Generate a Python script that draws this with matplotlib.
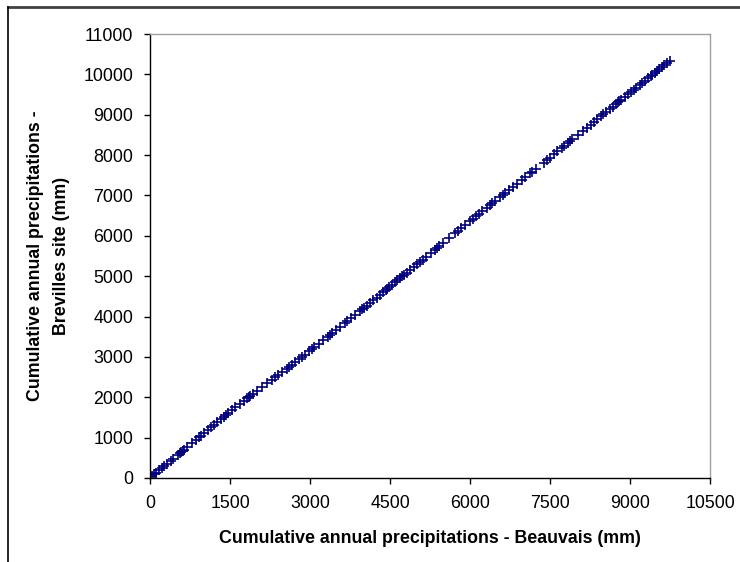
import matplotlib
matplotlib.use("Agg")
import matplotlib.pyplot as plt
from matplotlib.lines import Line2D

plt.rcParams['font.family'] = ['Liberation Sans', 'DejaVu Sans']

# cumulative totals (mm), Beauvais vs Brevilles site
beauvais = [
    35, 80, 120, 170, 230, 260, 310, 390, 440, 520, 560, 590, 610, 640, 700,
    780, 860, 920, 950, 1010, 1080, 1150, 1200, 1260, 1330, 1380, 1420, 1470,
    1540, 1600, 1680, 1760, 1820, 1850, 1880, 1930, 2010, 2100, 2200, 2280,
    2350, 2400, 2470, 2560, 2610, 2660, 2720, 2800, 2850, 2900, 2990, 3040,
    3080, 3160, 3250, 3330, 3380, 3420, 3490, 3560, 3650, 3700, 3760, 3840,
    3930, 3980, 4010, 4060, 4130, 4190, 4250, 4310, 4370, 4420, 4450, 4490,
    4540, 4600, 4640, 4690, 4730, 4760, 4810, 4870, 4950, 5010, 5060, 5110,
    5180, 5260, 5340, 5380, 5420, 5500, 5610, 5720, 5780, 5830, 5900, 6000,
    6050, 6110, 6160, 6230, 6310, 6370, 6420, 6470, 6560, 6610, 6650, 6730,
    6800, 6880, 6970, 7040, 7130, 7170, 7230, 7380, 7440, 7500, 7570, 7640,
    7720, 7760, 7830, 7880, 7920, 8020, 8120, 8190, 8260, 8330, 8380, 8450,
    8500, 8550, 8620, 8680, 8740, 8780, 8800, 8830, 8900, 8960, 9020, 9070,
    9120, 9180, 9230, 9280, 9340, 9390, 9420, 9460, 9510, 9550, 9600, 9640,
    9690, 9750,
]
brevilles = [
    38, 88, 131, 186, 252, 285, 340, 428, 483, 571, 616, 648, 670, 703, 769,
    857, 945, 1011, 1044, 1110, 1187, 1264, 1319, 1385, 1462, 1516, 1560, 1612,
    1685, 1748, 1831, 1910, 1970, 2000, 2030, 2080, 2160, 2250, 2350, 2430,
    2500, 2550, 2620, 2710, 2760, 2810, 2870, 2950, 3000, 3050, 3145, 3200,
    3240, 3320, 3415, 3500, 3550, 3595, 3670, 3745, 3840, 3890, 3955, 4040,
    4135, 4185, 4220, 4270, 4345, 4410, 4470, 4535, 4600, 4655, 4685, 4730,
    4785, 4850, 4895, 4950, 4995, 5030, 5085, 5150, 5235, 5300, 5355, 5410,
    5485, 5570, 5655, 5700, 5745, 5830, 5950, 6065, 6130, 6185, 6260, 6365,
    6420, 6485, 6540, 6615, 6700, 6765, 6820, 6870, 6965, 7020, 7060, 7145,
    7215, 7295, 7385, 7455, 7550, 7590, 7650, 7810, 7875, 7940, 8015, 8090,
    8175, 8220, 8295, 8350, 8395, 8500, 8605, 8680, 8755, 8830, 8885, 8960,
    9015, 9065, 9140, 9200, 9265, 9310, 9330, 9365, 9440, 9505, 9565, 9620,
    9670, 9735, 9790, 9840, 9905, 9960, 9990, 10035, 10085, 10130, 10180, 10225,
    10280, 10340,
]

x_ticks = [0, 1500, 3000, 4500, 6000, 7500, 9000, 10500]
y_ticks = [0, 1000, 2000, 3000, 4000, 5000, 6000, 7000, 8000, 9000, 10000, 11000]

fig = plt.figure(figsize=(7.4, 5.62), dpi=100)
ax = fig.add_axes([150 / 740, 1 - 478 / 562, 560 / 740, 444 / 562])

ax.plot(beauvais, brevilles, linestyle='none', marker='+', markersize=7.5,
        markeredgewidth=1.2, color='#000080')

ax.set_xlim(0, 10500)
ax.set_ylim(0, 11000)
ax.set_xticks(x_ticks)
ax.set_yticks(y_ticks)
ax.tick_params(axis='both', direction='out', length=4, width=1, pad=8,
               labelsize=12.8, colors='black')

for side in ['top', 'right']:
    ax.spines[side].set_color('#a0a0a0')
    ax.spines[side].set_linewidth(1)
for side in ['left', 'bottom']:
    ax.spines[side].set_color('black')
    ax.spines[side].set_linewidth(1)

ax.set_xlabel('Cumulative annual precipitations - Beauvais (mm)',
              fontsize=12.8, fontweight='bold', labelpad=13)
ax.set_ylabel('Cumulative annual precipitations -\nBrevilles site (mm)',
              fontsize=12.8, fontweight='bold', labelpad=10, linespacing=1.65)

# outer chart frame (top and left edges)
fig.add_artist(Line2D([8 / 740, 1], [1 - 7 / 562, 1 - 7 / 562],
                      color='#404040', linewidth=2, transform=fig.transFigure))
fig.add_artist(Line2D([8 / 740, 8 / 740], [0, 1 - 7 / 562],
                      color='black', linewidth=1.2, transform=fig.transFigure))

fig.savefig('out.png', dpi=100)
